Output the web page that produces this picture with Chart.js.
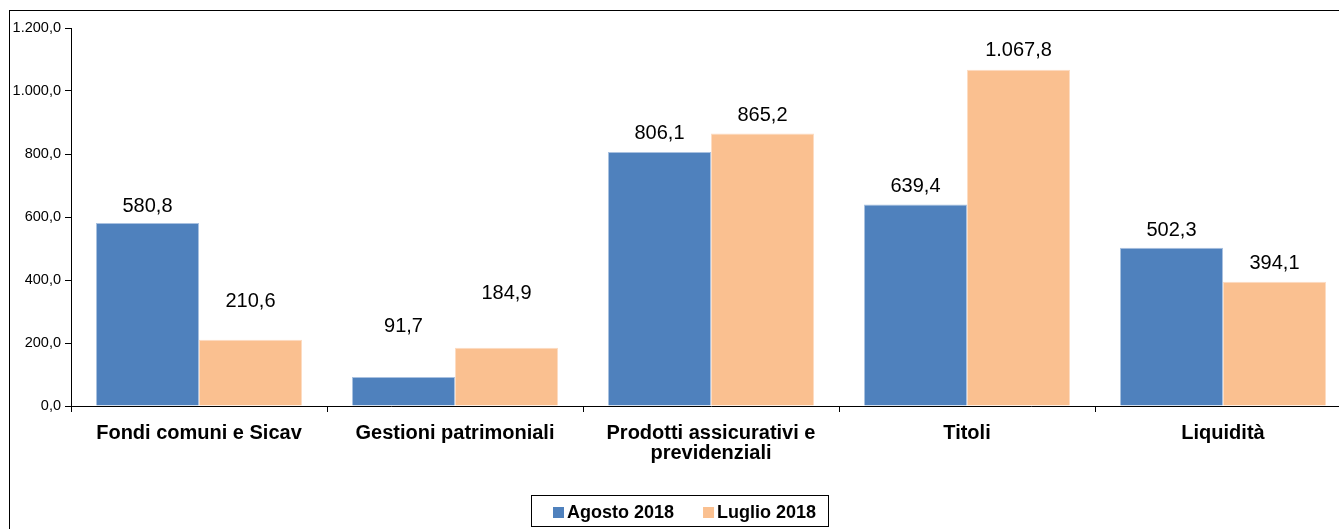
<!DOCTYPE html>
<html>
<head>
<meta charset="utf-8">
<script src="https://cdn.jsdelivr.net/npm/chart.js@4/dist/chart.umd.min.js"></script>
<style>
  html, body { margin: 0; padding: 0; background: #fff; overflow: hidden; }
  #wrap { position: absolute; left: 0; top: 0; width: 1352px; height: 529px; }
</style>
</head>
<body>
<div id="wrap"><canvas id="c" width="1352" height="529"></canvas></div>
<script>
// ---- data ----
const categories = [
  "Fondi comuni e Sicav",
  "Gestioni patrimoniali",
  ["Prodotti assicurativi e", "previdenziali"],
  "Titoli",
  "Liquidità"
];
const seriesNames = ["Agosto 2018", "Luglio 2018"];
const agosto2018 = [580.8, 91.7, 806.1, 639.4, 502.3];
const luglio2018 = [210.6, 184.9, 865.2, 1067.8, 394.1];
const yTicks = [0, 200, 400, 600, 800, 1000, 1200];

// ---- styling ----
const FONT = "'Liberation Sans', Arial, Helvetica, sans-serif";
const COLORS = ["#4F81BD", "#FAC090"];
const BORDERS = ["#A9C1E0", "#FDDCC2"];
// pixel distance between bar top and label centre (labels moved by hand in original)
const labelGap = [[17, 51, 19, 18, 17], [38, 54, 18, 19, 18]];

function fmtIt(v) {
  const neg = v < 0;
  const s = Math.abs(v).toFixed(1);
  let [ip, dp] = s.split(".");
  ip = ip.replace(/\B(?=(\d{3})+(?!\d))/g, ".");
  return (neg ? "-" : "") + ip + "," + dp;
}

const frameAndLabels = {
  id: "frameAndLabels",
  beforeDraw(chart) {
    const ctx = chart.ctx;
    ctx.save();
    ctx.strokeStyle = "#000";
    ctx.lineWidth = 1;
    ctx.strokeRect(9.5, 10.5, 3000, 3000);
    ctx.restore();
  },
  afterDatasetsDraw(chart) {
    const ctx = chart.ctx;
    ctx.save();
    ctx.font = "20px " + FONT;
    ctx.fillStyle = "#000";
    ctx.textAlign = "center";
    ctx.textBaseline = "middle";
    chart.data.datasets.forEach((ds, di) => {
      const meta = chart.getDatasetMeta(di);
      meta.data.forEach((bar, i) => {
        ctx.fillText(fmtIt(ds.data[i]), bar.x, bar.y - labelGap[di][i]);
      });
    });
    ctx.restore();
  },
  afterDraw(chart) {
    // boxed legend, drawn from the dataset names and colours
    const ctx = chart.ctx;
    ctx.save();
    ctx.font = "bold 18px " + FONT;
    const sq = 11, gapText = 3, gapItem = 29;
    const ds = chart.data.datasets;
    const widths = ds.map(d => ctx.measureText(d.label).width);
    let total = 0;
    widths.forEach((w, i) => { total += sq + gapText + w + (i < widths.length - 1 ? gapItem : 0); });
    let x = 553;
    const cy = 512;
    const boxL = x - 22 + 0.5, boxR = Math.max(828.5, Math.round(x + total + 4) + 0.5);
    ctx.strokeStyle = "#000";
    ctx.lineWidth = 1;
    ctx.strokeRect(boxL, 495.5, boxR - boxL, 31);
    ctx.textBaseline = "middle";
    ctx.textAlign = "left";
    ds.forEach((d, i) => {
      ctx.fillStyle = d.backgroundColor;
      ctx.fillRect(x, cy - 5, sq, sq);
      ctx.fillStyle = "#000";
      ctx.fillText(d.label, x + sq + gapText, cy + 1);
      x += sq + gapText + widths[i] + gapItem;
    });
    ctx.restore();
  }
};

new Chart(document.getElementById("c"), {
  type: "bar",
  data: {
    labels: categories,
    datasets: [
      {
        label: seriesNames[0],
        data: agosto2018,
        backgroundColor: COLORS[0],
        borderColor: BORDERS[0],
        borderWidth: 1,
        categoryPercentage: 0.805,
        barPercentage: 1.0
      },
      {
        label: seriesNames[1],
        data: luglio2018,
        backgroundColor: COLORS[1],
        borderColor: BORDERS[1],
        borderWidth: 1,
        categoryPercentage: 0.805,
        barPercentage: 1.0
      }
    ]
  },
  options: {
    responsive: false,
    animation: false,
    devicePixelRatio: 1,
    layout: { padding: { top: 28, right: 1, bottom: 50, left: 0 } },
    plugins: {
      tooltip: { enabled: false },
      legend: { display: false }
    },
    scales: {
      x: {
        grid: { display: true, drawOnChartArea: false, drawTicks: true, tickLength: 6, color: "#000", offset: true },
        border: { display: true, color: "#000", width: 1 },
        ticks: {
          color: "#000",
          font: { family: FONT, size: 20, weight: "bold", lineHeight: 1.0 },
          padding: 11,
          maxRotation: 0,
          autoSkip: false
        },
        afterFit(scale) { scale.height = 73; }
      },
      y: {
        min: 0,
        max: 1200,
        afterBuildTicks(scale) { scale.ticks = yTicks.map(v => ({ value: v })); },
        grid: { display: true, drawOnChartArea: false, drawTicks: true, tickLength: 6, color: "#000" },
        border: { display: true, color: "#000", width: 1 },
        ticks: {
          color: "#000",
          font: { family: FONT, size: 14.5 },
          padding: 4,
          callback: v => fmtIt(v)
        },
        afterFit(scale) { scale.width = 71; }
      }
    }
  },
  plugins: [frameAndLabels]
});
</script>
</body>
</html>
